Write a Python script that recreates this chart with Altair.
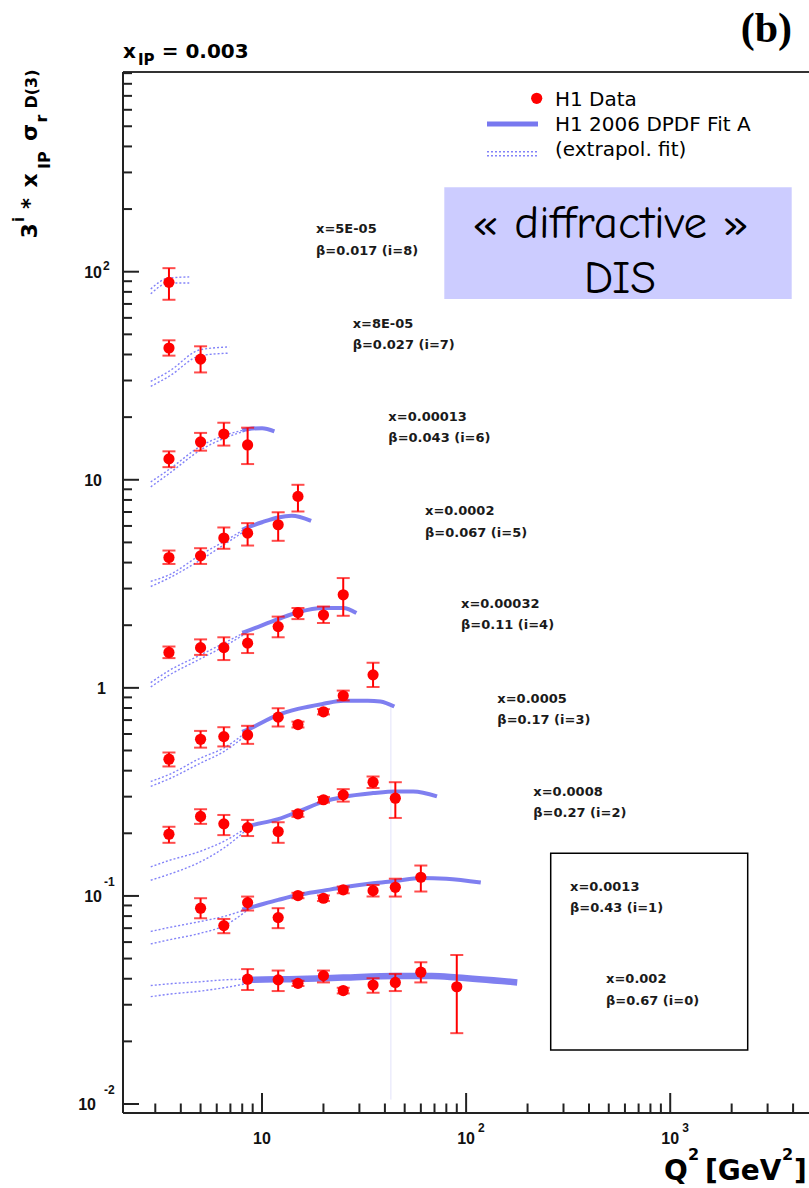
import altair as alt
import pandas as pd

# ---------------- measured points: Q^2 [GeV^2], 3^i * x_IP * sigma_r^D(3), error limits
q_i8 = [3.5]
v_i8 = [88.9]
lo_i8 = [73.3]
hi_i8 = [104.0]

q_i7 = [3.5, 5]
v_i7 = [43.0, 38.0]
lo_i7 = [39.5, 32.8]
hi_i7 = [46.8, 43.8]

q_i6 = [3.5, 5, 6.5, 8.5]
v_i6 = [12.6, 15.2, 16.6, 14.7]
lo_i6 = [11.5, 13.8, 14.6, 11.9]
hi_i6 = [13.7, 16.8, 18.8, 17.8]

q_i5 = [3.5, 5, 6.5, 8.5, 12, 15]
v_i5 = [4.23, 4.31, 5.25, 5.54, 6.08, 8.32]
lo_i5 = [3.94, 3.94, 4.66, 4.83, 5.09, 7.04]
hi_i5 = [4.57, 4.69, 5.90, 6.19, 6.98, 9.46]

q_i4 = [3.5, 5, 6.5, 8.5, 12, 15, 20, 25]
v_i4 = [1.48, 1.56, 1.56, 1.64, 1.97, 2.30, 2.24, 2.80]
lo_i4 = [1.39, 1.44, 1.36, 1.47, 1.75, 2.14, 2.05, 2.22]
hi_i4 = [1.58, 1.71, 1.75, 1.81, 2.20, 2.42, 2.46, 3.37]

q_i3 = [3.5, 5, 6.5, 8.5, 12, 15, 20, 25, 35]
v_i3 = [0.454, 0.566, 0.583, 0.594, 0.723, 0.666, 0.767, 0.916, 1.155]
lo_i3 = [0.419, 0.516, 0.523, 0.538, 0.652, 0.645, 0.745, 0.870, 1.01]
hi_i3 = [0.489, 0.621, 0.647, 0.657, 0.798, 0.688, 0.790, 0.970, 1.32]

q_i2 = [3.5, 5, 6.5, 8.5, 12, 15, 20, 25, 35, 45]
v_i2 = [0.198, 0.241, 0.222, 0.213, 0.204, 0.248, 0.290, 0.306, 0.352, 0.295]
lo_i2 = [0.180, 0.222, 0.196, 0.194, 0.180, 0.240, 0.281, 0.284, 0.330, 0.237]
hi_i2 = [0.215, 0.261, 0.245, 0.232, 0.226, 0.256, 0.299, 0.326, 0.375, 0.352]

q_i1 = [5, 6.5, 8.5, 12, 15, 20, 25, 35, 45, 60]
v_i1 = [0.0873, 0.0720, 0.0929, 0.0787, 0.1004, 0.0975, 0.107, 0.106, 0.110, 0.123]
lo_i1 = [0.0781, 0.0662, 0.0851, 0.0700, 0.0975, 0.0945, 0.103, 0.0993, 0.0993, 0.105]
hi_i1 = [0.0975, 0.0775, 0.0993, 0.0873, 0.1035, 0.1005, 0.111, 0.113, 0.121, 0.140]

q_i0 = [8.5, 12, 15, 20, 25, 35, 45, 60, 90]
v_i0 = [0.0398, 0.0395, 0.0380, 0.0414, 0.0351, 0.0373, 0.0384, 0.0430, 0.0366]
lo_i0 = [0.0353, 0.0349, 0.0369, 0.0384, 0.0340, 0.0343, 0.0349, 0.0384, 0.0219]
hi_i0 = [0.0445, 0.0438, 0.0391, 0.0438, 0.0362, 0.0402, 0.0422, 0.0480, 0.0520]

# ---------------- H1 2006 DPDF Fit A (solid, fitted region)
fit_q_i6 = [8.0, 8.5, 10, 11.5]
fit_v_i6 = [17.3, 17.5, 17.7, 17.1]
fit_q_i5 = [8.0, 8.5, 10, 12, 14, 17.4]
fit_v_i5 = [5.75, 5.9, 6.25, 6.59, 6.71, 6.35]
fit_q_i4 = [8.0, 8.5, 12, 15, 20, 25, 29]
fit_v_i4 = [1.84, 1.88, 2.14, 2.31, 2.42, 2.42, 2.29]
fit_q_i3 = [8.0, 8.5, 12, 15, 20, 25, 33, 38, 44.5]
fit_v_i3 = [0.615, 0.63, 0.741, 0.792, 0.838, 0.866, 0.868, 0.86, 0.813]
fit_q_i2 = [8.0, 8.5, 12, 15, 20, 25, 35, 45, 55, 72]
fit_v_i2 = [0.212, 0.216, 0.234, 0.254, 0.284, 0.299, 0.312, 0.318, 0.318, 0.301]
fit_q_i1 = [8.0, 8.5, 12, 15, 20, 25, 35, 45, 60, 80, 118]
fit_v_i1 = [0.0860, 0.0873, 0.0957, 0.101, 0.106, 0.110, 0.115, 0.118, 0.122, 0.121, 0.116]
fit_q_i0 = [8.0, 8.5, 15, 25, 45, 68, 90, 178]
fit_v_i0 = [0.0394, 0.0395, 0.0399, 0.0405, 0.0412, 0.0412, 0.0406, 0.0384]

# ---------------- extrapolated fit (dotted band edges)
ext_q_i8 = [2.85, 3.5, 4.4]
ext_up_i8 = [82.6, 93.3, 94.4]
ext_dn_i8 = [78.3, 88.3, 88.3]
ext_q_i7 = [2.85, 3.5, 5, 6.9]
ext_up_i7 = [29.7, 33.2, 42.2, 43.5]
ext_dn_i7 = [28.1, 31.4, 39.5, 40.6]
ext_q = [2.85, 3.5, 5, 6.5, 8.5]
ext_up_i6 = [9.77, 11.2, 14.5, 16.3, 17.5]
ext_dn_i6 = [9.25, 10.7, 13.9, 15.8, 17.3]
ext_up_i5 = [3.25, 3.49, 4.36, 5.05, 5.9]
ext_dn_i5 = [3.07, 3.37, 4.12, 4.87, 5.8]
ext_up_i4 = [1.06, 1.21, 1.44, 1.64, 1.88]
ext_dn_i4 = [1.01, 1.15, 1.38, 1.58, 1.85]
ext_up_i3 = [0.355, 0.383, 0.46, 0.514, 0.62]
ext_dn_i3 = [0.336, 0.365, 0.435, 0.494, 0.60]
ext_up_i2 = [0.138, 0.148, 0.164, 0.183, 0.214]
ext_dn_i2 = [0.119, 0.127, 0.146, 0.170, 0.210]
ext_up_i1 = [0.0675, 0.0705, 0.0754, 0.0797, 0.0866]
ext_dn_i1 = [0.0588, 0.0615, 0.0662, 0.0718, 0.0855]
ext_up_i0 = [0.0371, 0.0378, 0.0387, 0.0395, 0.0398]
ext_dn_i0 = [0.0328, 0.0337, 0.0349, 0.0362, 0.0380]

# faint vertical line
vline_q = [42.8]
vline_top = [0.82]
vline_bot = [0.0105]

# ---------------- bin labels (i = 8 ... 0) and their anchors in data coordinates
ann_x = ["x=5E-05", "x=8E-05", "x=0.00013", "x=0.0002", "x=0.00032",
         "x=0.0005", "x=0.0008", "x=0.0013", "x=0.002"]
ann_b = ["β=0.017 (i=8)", "β=0.027 (i=7)", "β=0.043 (i=6)", "β=0.067 (i=5)",
         "β=0.11 (i=4)", "β=0.17 (i=3)", "β=0.27 (i=2)", "β=0.43 (i=1)", "β=0.67 (i=0)"]
ann_q = [18.39, 27.8, 41.6, 62.9, 94.4, 142.2, 213.4, 322.9, 484.9]
ann_v = [152.9, 53.8, 19.23, 6.77, 2.42, 0.849, 0.3034, 0.1060, 0.03806]

# ---------------- axis ticks
y_major = [0.01, 0.1, 1, 10, 100]
y_minor = [0.02, 0.03, 0.04, 0.05, 0.06, 0.07, 0.08, 0.09,
           0.2, 0.3, 0.4, 0.5, 0.6, 0.7, 0.8, 0.9,
           2, 3, 4, 5, 6, 7, 8, 9,
           20, 30, 40, 50, 60, 70, 80, 90,
           200, 300, 400, 500, 600, 700, 800, 900]
x_major = [10, 100, 1000]
x_minor = [3, 4, 5, 6, 7, 8, 9, 20, 30, 40, 50, 60, 70, 80, 90,
           200, 300, 400, 500, 600, 700, 800, 900, 2000, 3000, 4000]

# ---------------- geometry
L, T = 123, 72
W, H = 686, 1041
XS = alt.Scale(type="log", domain=[2.084, 4786], nice=False)
YS = alt.Scale(type="log", domain=[0.009053, 911.5], nice=False)
RED = "#ff0000"
FITC = "#7878ef"
EXTC = "#5a5af5"
AX = "#222222"


def X(f):
    return alt.X(f, type="quantitative", scale=XS, axis=None)


def Y(f):
    return alt.Y(f, type="quantitative", scale=YS, axis=None)


ONE = pd.DataFrame({"a": [0]})

# ---------------- build tables
series = [
    (8, q_i8, v_i8, lo_i8, hi_i8), (7, q_i7, v_i7, lo_i7, hi_i7),
    (6, q_i6, v_i6, lo_i6, hi_i6), (5, q_i5, v_i5, lo_i5, hi_i5),
    (4, q_i4, v_i4, lo_i4, hi_i4), (3, q_i3, v_i3, lo_i3, hi_i3),
    (2, q_i2, v_i2, lo_i2, hi_i2), (1, q_i1, v_i1, lo_i1, hi_i1),
    (0, q_i0, v_i0, lo_i0, hi_i0),
]
prow, crow = [], []
for i, qs, vs, los, his in series:
    for q, v, lo, hi in zip(qs, vs, los, his):
        prow.append({"i": i, "q": q, "v": v, "lo": lo, "hi": hi})
        crow.append({"q": q, "y": lo})
        crow.append({"q": q, "y": hi})
pts = pd.DataFrame(prow)
caps = pd.DataFrame(crow)

fits = [(6, fit_q_i6, fit_v_i6), (5, fit_q_i5, fit_v_i5), (4, fit_q_i4, fit_v_i4),
        (3, fit_q_i3, fit_v_i3), (2, fit_q_i2, fit_v_i2), (1, fit_q_i1, fit_v_i1)]
fit_df = pd.DataFrame([{"i": i, "q": q, "v": v} for i, qs, vs in fits for q, v in zip(qs, vs)])
fit0_df = pd.DataFrame({"q": fit_q_i0, "v": fit_v_i0})

exts = [(8, ext_q_i8, ext_up_i8, ext_dn_i8), (7, ext_q_i7, ext_up_i7, ext_dn_i7),
        (6, ext_q, ext_up_i6, ext_dn_i6), (5, ext_q, ext_up_i5, ext_dn_i5),
        (4, ext_q, ext_up_i4, ext_dn_i4), (3, ext_q, ext_up_i3, ext_dn_i3),
        (2, ext_q, ext_up_i2, ext_dn_i2), (1, ext_q, ext_up_i1, ext_dn_i1),
        (0, ext_q, ext_up_i0, ext_dn_i0)]
erow = []
for i, qs, ups, dns in exts:
    for q, u, d in zip(qs, ups, dns):
        erow.append({"k": f"{i}u", "q": q, "v": u})
        erow.append({"k": f"{i}d", "q": q, "v": d})
ext_df = pd.DataFrame(erow)

ann_df = pd.DataFrame({"q": ann_q, "v": ann_v, "t1": ann_x, "t2": ann_b})
vl_df = pd.DataFrame({"q": vline_q, "top": vline_top, "bot": vline_bot})

layers = []

# diffractive DIS box (behind everything)
layers.append(alt.Chart(ONE).mark_rect(color="#ccccff").encode(
    x=alt.value(444.3 - L), x2=alt.value(791.7 - L), y=alt.value(187.3 - T), y2=alt.value(299 - T)))

# faint vertical line
layers.append(alt.Chart(vl_df).mark_rule(color="#e2e2fa", strokeWidth=1).encode(
    x=X("q"), y=Y("top"), y2=alt.Y2("bot")))

# extrapolated fit
layers.append(alt.Chart(ext_df).mark_line(color=EXTC, strokeWidth=1.4, strokeDash=[2, 2],
                                         opacity=0.75, interpolate="monotone").encode(
    x=X("q"), y=Y("v"), detail="k:N"))

# fit
layers.append(alt.Chart(fit_df).mark_line(color=FITC, strokeWidth=4, interpolate="monotone",
                                         opacity=0.95).encode(
    x=X("q"), y=Y("v"), detail="i:N"))
layers.append(alt.Chart(fit0_df).mark_line(color=FITC, strokeWidth=6.5, interpolate="monotone",
                                          opacity=0.95).encode(x=X("q"), y=Y("v")))

# data
layers.append(alt.Chart(pts).mark_rule(color=RED, strokeWidth=2).encode(
    x=X("q"), y=Y("lo"), y2=alt.Y2("hi")))
layers.append(alt.Chart(caps).mark_tick(color=RED, orient="horizontal", size=13, thickness=2).encode(
    x=X("q"), y=Y("y")))
layers.append(alt.Chart(pts).mark_circle(color=RED, size=125, opacity=1).encode(
    x=X("q"), y=Y("v")))

# ---------------- frame and ticks
layers.append(alt.Chart(ONE).mark_rule(color=AX, strokeWidth=2).encode(
    x=alt.value(0), y=alt.value(0), y2=alt.value(H)))
layers.append(alt.Chart(ONE).mark_rule(color=AX, strokeWidth=2).encode(
    x=alt.value(0), x2=alt.value(W), y=alt.value(H)))
layers.append(alt.Chart(ONE).mark_rule(color="#333333", strokeWidth=2).encode(
    x=alt.value(0), x2=alt.value(W), y=alt.value(0)))

ymaj_df = pd.DataFrame({"v": y_major})
ymin_df = pd.DataFrame({"v": y_minor})
xmaj_df = pd.DataFrame({"q": x_major})
xmin_df = pd.DataFrame({"q": x_minor})
layers.append(alt.Chart(ymaj_df).mark_rule(color=AX, strokeWidth=2).encode(
    y=Y("v"), x=alt.value(0), x2=alt.value(16)))
layers.append(alt.Chart(ymin_df).mark_rule(color=AX, strokeWidth=2).encode(
    y=Y("v"), x=alt.value(0), x2=alt.value(9)))
layers.append(alt.Chart(xmaj_df).mark_rule(color=AX, strokeWidth=2).encode(
    x=X("q"), y=alt.value(H), y2=alt.value(H - 20)))
layers.append(alt.Chart(xmin_df).mark_rule(color=AX, strokeWidth=2).encode(
    x=X("q"), y=alt.value(H), y2=alt.value(H - 9.5)))

LAB = dict(font="Liberation Sans", fontWeight="bold", color="#111111", baseline="alphabetic")
# y tick labels
layers.append(alt.Chart(pd.DataFrame({"v": [100, 10, 0.1], "t": ["10", "10", "10"]})).mark_text(
    align="right", dx=-21, dy=6, fontSize=16, **LAB).encode(y=Y("v"), x=alt.value(0), text="t:N"))
layers.append(alt.Chart(pd.DataFrame({"v": [1], "t": ["1"]})).mark_text(
    align="right", dx=-17, dy=6, fontSize=16, **LAB).encode(y=Y("v"), x=alt.value(0), text="t:N"))
layers.append(alt.Chart(pd.DataFrame({"v": [0.01], "t": ["10"]})).mark_text(
    align="right", dx=-27, dy=6, fontSize=16, **LAB).encode(y=Y("v"), x=alt.value(0), text="t:N"))
layers.append(alt.Chart(pd.DataFrame({"v": [100], "t": ["2"]})).mark_text(
    align="left", dx=-20, dy=-2, fontSize=12, **LAB).encode(y=Y("v"), x=alt.value(0), text="t:N"))
layers.append(alt.Chart(pd.DataFrame({"v": [0.1, 0.01], "t": ["-1", "-2"]})).mark_text(
    align="left", dx=-19, dy=-10, fontSize=12, **LAB).encode(y=Y("v"), x=alt.value(0), text="t:N"))
# x tick labels
layers.append(alt.Chart(pd.DataFrame({"q": x_major, "t": ["10", "10", "10"]})).mark_text(
    align="center", fontSize=16, **LAB).encode(x=X("q"), y=alt.value(1144 - T), text="t:N"))
layers.append(alt.Chart(pd.DataFrame({"q": [100, 1000], "t": ["2", "3"]})).mark_text(
    align="left", dx=12, fontSize=12, **LAB).encode(x=X("q"), y=alt.value(1132 - T), text="t:N"))

# ---------------- bin annotations
ANN = dict(font="DejaVu Sans", fontWeight="bold", fontSize=13, color="#1a1a1a",
           align="left", baseline="alphabetic")
layers.append(alt.Chart(ann_df).mark_text(**ANN).encode(x=X("q"), y=Y("v"), text="t1:N"))
layers.append(alt.Chart(ann_df).mark_text(dy=21.5, **ANN).encode(x=X("q"), y=Y("v"), text="t2:N"))

# box around i=1, i=0 labels
layers.append(alt.Chart(ONE).mark_rect(fillOpacity=0, stroke="#000000", strokeWidth=1.5).encode(
    x=alt.value(550.7 - L), x2=alt.value(747.7 - L), y=alt.value(853.3 - T), y2=alt.value(1050 - T)))


def ptxt(s, px, py, size, weight="normal", font="DejaVu Sans", align="left", angle=0, color="#000000"):
    return alt.Chart(ONE).mark_text(text=s, align=align, baseline="alphabetic", font=font,
                                    fontSize=size, fontWeight=weight, angle=angle,
                                    color=color).encode(x=alt.value(px - L), y=alt.value(py - T))


# legend
layers.append(alt.Chart(ONE).mark_circle(color=RED, size=125, opacity=1).encode(
    x=alt.value(536.7 - L), y=alt.value(98.3 - T)))
layers.append(alt.Chart(ONE).mark_rule(color=FITC, strokeWidth=5).encode(
    x=alt.value(487 - L), x2=alt.value(538 - L), y=alt.value(124 - T)))
layers.append(alt.Chart(ONE).mark_rule(color=EXTC, strokeWidth=1.4, strokeDash=[2, 2], opacity=0.75).encode(
    x=alt.value(487 - L), x2=alt.value(538 - L), y=alt.value(151.7 - T)))
layers.append(alt.Chart(ONE).mark_rule(color=EXTC, strokeWidth=1.4, strokeDash=[2, 2], opacity=0.75).encode(
    x=alt.value(487 - L), x2=alt.value(538 - L), y=alt.value(155.7 - T)))
layers.append(ptxt("H1 Data", 555, 106, 20))
layers.append(ptxt("H1 2006 DPDF Fit A", 555, 130.5, 20))
layers.append(ptxt("(extrapol. fit)", 555, 156, 20))

# diffractive DIS text
CF = "Comic Sans MS, Comic Neue, DejaVu Sans"
layers.append(ptxt("« diffractive »", 610.5, 238, 47, font=CF, align="center"))
layers.append(ptxt("DIS", 620, 293, 47, font=CF, align="center"))

# panel tag and title
layers.append(ptxt("(b)", 792, 42, 42, weight="bold", font="Liberation Serif", align="right"))
layers.append(ptxt("x", 123, 58.3, 20, weight="bold"))
layers.append(ptxt("IP", 138, 65, 15, weight="bold"))
layers.append(ptxt("= 0.003", 161.7, 58.3, 20, weight="bold"))

# y-axis title pieces (rotated)
for s, px, py, sz in [("3", 37, 238.5, 22), ("i", 24, 222, 15), ("*", 37, 209, 21),
                      ("x", 37, 187.5, 22), ("IP", 49.5, 169, 16), ("σ", 37, 141, 22),
                      ("r", 47, 122.5, 16), ("D(3)", 37, 108.5, 16)]:
    layers.append(ptxt(s, px, py, sz, weight="bold", angle=270))

# x-axis title pieces
layers.append(ptxt("Q", 664, 1180, 28, weight="bold"))
layers.append(ptxt("2", 688, 1160, 16, weight="bold"))
layers.append(ptxt("[GeV", 705, 1180, 28, weight="bold"))
layers.append(ptxt("2", 782, 1160, 16, weight="bold"))
layers.append(ptxt("]", 794, 1180, 28, weight="bold"))

chart = alt.layer(*layers).properties(
    width=W, height=H,
    padding={"left": L, "top": T, "right": 0, "bottom": 1188 - T - H},
    autosize=alt.AutoSizeParams(type="none"),
    background="white",
).configure_view(stroke=None)

chart.save("out.html", embed_options={"renderer": "svg", "actions": False})
